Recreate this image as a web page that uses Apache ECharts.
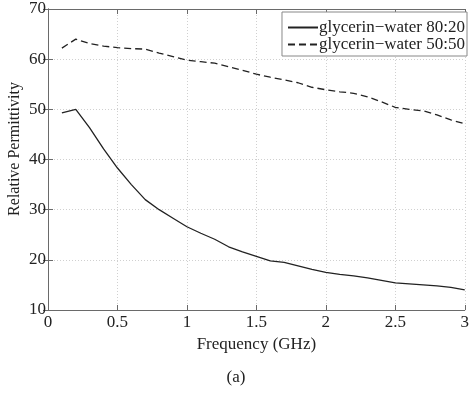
<!DOCTYPE html>
<html><head><meta charset="utf-8">
<script src="https://cdn.jsdelivr.net/npm/echarts@6/dist/echarts.min.js"></script>
<style>html,body{margin:0;padding:0;background:#fff}#c{width:472px;height:394px}</style>
</head><body><div id="c"></div>
<script>
const freq = [0.1,0.2,0.3,0.4,0.5,0.6,0.7,0.8,0.9,1.0,1.1,1.2,1.3,1.4,1.5,1.6,1.7,1.8,1.9,2.0,2.1,2.2,2.3,2.4,2.5,2.6,2.7,2.8,2.9,3.0];
const gw8020 = [49.3,50.0,46.3,42.1,38.3,35.0,32.0,30.0,28.3,26.6,25.3,24.1,22.6,21.6,20.7,19.8,19.5,18.8,18.1,17.5,17.1,16.8,16.4,15.9,15.4,15.2,15.0,14.8,14.5,14.0];
const gw5050 = [62.2,64.0,63.1,62.6,62.3,62.1,62.0,61.2,60.5,59.8,59.5,59.2,58.5,57.8,57.0,56.4,55.9,55.3,54.4,53.9,53.5,53.2,52.5,51.5,50.4,50.0,49.7,48.9,47.9,47.1];
const seriesNames = ['glycerin\u2212water 80:20','glycerin\u2212water 50:50'];
const xTitle = 'Frequency (GHz)';
const yTitle = 'Relative Permittivity';
const caption = '(a)';

const font = 'Liberation Serif';
const axisCol = '#6a6a6a';
const txtCol = '#222';
const chart = echarts.init(document.getElementById('c'));
const pairs = (ys) => freq.map((f,i)=>[f,ys[i]]);
const baseX = {type:'value',min:0,max:3,interval:0.5,
  axisLine:{show:true,lineStyle:{color:axisCol,width:1}},
  axisTick:{show:true,inside:true,length:5,lineStyle:{color:axisCol}},
  splitLine:{show:false}};
const baseY = {type:'value',min:10,max:70,interval:10,
  axisLine:{show:true,lineStyle:{color:axisCol,width:1}},
  axisTick:{show:true,inside:true,length:5,lineStyle:{color:axisCol}},
  splitLine:{show:false}};
chart.setOption({
  animation:false,
  textStyle:{fontFamily:font},
  title:{text:caption,left:'center',top:364,textStyle:{fontFamily:font,fontSize:17,fontWeight:'normal',color:txtCol}},
  graphic:[{type:'text',x:15,y:149,rotation:Math.PI/2,
    style:{text:yTitle,font:'16px "Liberation Serif"',fill:txtCol,align:'center',verticalAlign:'middle'}}],
  grid:{left:48,right:3,top:9,bottom:84,containLabel:false},
  legend:{right:5,top:12,orient:'vertical',itemWidth:30,itemHeight:10,itemGap:0,
    backgroundColor:'#fff',borderColor:'#888',borderWidth:1,padding:[7,2,3,5],
    itemStyle:{opacity:0},
    textStyle:{fontFamily:font,fontSize:17,lineHeight:17,color:txtCol,padding:[0,0,0,-4]},
    data:seriesNames},
  xAxis:[
    Object.assign({},baseX,{position:'bottom',
      name:xTitle,nameLocation:'middle',nameGap:23,
      nameTextStyle:{fontFamily:font,fontSize:17,color:txtCol},
      axisLabel:{fontFamily:font,fontSize:17,color:txtCol,margin:4},
      splitLine:{show:true,lineStyle:{color:'#d0d0d0',type:[1,2],width:1}}}),
    Object.assign({},baseX,{position:'top',axisLabel:{show:false}})
  ],
  yAxis:[
    Object.assign({},baseY,{position:'left',
      axisLabel:{fontFamily:font,fontSize:17,color:txtCol,margin:2},
      splitLine:{show:true,lineStyle:{color:'#d0d0d0',type:[1,2],width:1}}}),
    Object.assign({},baseY,{position:'right',axisLabel:{show:false}})
  ],
  series:[
    {name:seriesNames[0],type:'line',data:pairs(gw8020),symbol:'none',
      lineStyle:{color:'#222',width:1.3,type:'solid'},itemStyle:{color:'#222'}},
    {name:seriesNames[1],type:'line',data:pairs(gw5050),symbol:'none',
      lineStyle:{color:'#222',width:1.3,type:[7,4]},itemStyle:{color:'#222'}}
  ]
});
</script></body></html>
